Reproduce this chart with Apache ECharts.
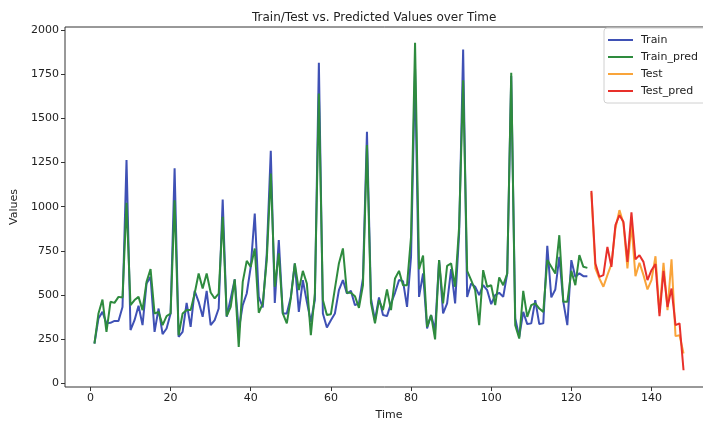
<!DOCTYPE html>
<html>
<head>
<meta charset="utf-8">
<script src="https://cdn.jsdelivr.net/npm/echarts@6/dist/echarts.min.js"></script>
<style>
  html, body { margin: 0; padding: 0; background: #fff; }
  #chart { width: 703px; height: 423px; }
</style>
</head>
<body>
<div id="chart"></div>
<script>
// values, index = time step
var trainStart = 1;
var train = [226, 368, 405, 340, 343, 354, 354, 433, 1264, 302, 358, 440, 330, 566, 603, 292, 424, 279, 311, 396,
    1217, 264, 292, 456, 320, 524, 462, 377, 524, 330, 358, 424, 1041, 377, 481, 589, 302, 443, 509, 660,
    962, 490, 430, 736, 1316, 456, 811, 396, 396, 490, 679, 405, 585, 462, 349, 472, 1814, 396, 317, 358,
    396, 528, 585, 509, 524, 443, 453, 594, 1424, 481, 358, 487, 387, 381, 453, 513, 585, 579, 433, 717,
    1780, 490, 622, 311, 387, 302, 698, 396, 453, 647, 453, 849, 1890, 490, 566, 547, 500, 556, 528, 449,
    500, 513, 490, 622, 1740, 368, 264, 405, 336, 340, 472, 336, 340, 779, 487, 532, 717, 462, 330, 698,
    603, 623, 607, 607];
var trainPred = [226, 396, 475, 292, 462, 456, 490, 487, 1022, 443, 472, 490, 415, 575, 647, 396, 405, 330, 381, 396,
    1037, 273, 396, 415, 415, 509, 622, 537, 622, 515, 481, 509, 943, 381, 433, 589, 207, 575, 694, 660,
    764, 400, 453, 698, 1188, 547, 736, 396, 340, 481, 679, 528, 637, 566, 273, 509, 1641, 472, 387, 392,
    537, 679, 764, 513, 513, 494, 428, 556, 1349, 456, 340, 472, 415, 532, 415, 594, 637, 556, 556, 830,
    1928, 647, 724, 320, 387, 249, 698, 453, 666, 679, 547, 886, 1716, 637, 585, 528, 330, 641, 547, 556,
    443, 600, 556, 622, 1758, 330, 254, 524, 377, 443, 453, 424, 405, 698, 660, 622, 839, 462, 462, 637,
    556, 726, 660, 654];
var testStart = 125;
var test = [1080, 651, 594, 547, 613, 675, 877, 981, 906, 651, 900, 607, 683, 613, 532, 585, 720, 400, 683, 415,
    702, 268, 273, 170];
var testPred = [1090, 679, 603, 613, 773, 660, 896, 952, 915, 688, 968, 702, 726, 688, 585, 641, 675, 381, 637, 433,
    537, 330, 340, 75];

var xTicks = [0, 20, 40, 60, 80, 100, 120, 140];
var yTicks = [0, 250, 500, 750, 1000, 1250, 1500, 1750, 2000];

function pairs(start, vals) {
    return vals.map(function (v, i) { return [start + i, v]; });
}

var chart = echarts.init(document.getElementById('chart'));
var font = 'DejaVu Sans';

function lineSeries(name, color, data) {
    return {
        name: name,
        type: 'line',
        data: data,
        showSymbol: false,
        symbol: 'none',
        lineStyle: { color: color, width: 2 },
        itemStyle: { color: color }
    };
}

chart.setOption({
    animation: false,
    title: {
        text: 'Train/Test vs. Predicted Values over Time',
        left: 247,
        top: 7,
        textStyle: { fontFamily: font, fontSize: 12, fontWeight: 'normal', color: '#222' }
    },
    legend: {
        orient: 'vertical',
        left: 604,
        top: 28,
        padding: [5, 30, 5, 4],
        itemWidth: 25,
        itemHeight: 2,
        itemGap: 3,
        icon: 'rect',
        backgroundColor: '#fff',
        borderColor: '#d0d0d0',
        borderWidth: 1,
        borderRadius: 3,
        textStyle: { fontFamily: font, fontSize: 11, color: '#222', lineHeight: 14, padding: [0, 0, 0, 3] },
        data: ['Train', 'Train_pred', 'Test', 'Test_pred']
    },
    grid: {
        left: 65,
        right: -10,
        top: 27,
        bottom: 36,
        outerBoundsMode: 'none',
        containLabel: false,
        show: true,
        borderColor: '#333',
        borderWidth: 1,
        backgroundColor: 'transparent'
    },
    xAxis: {
        type: 'value',
        min: -6.35,
        max: 155.35,
        name: 'Time',
        nameLocation: 'middle',
        nameGap: 23,
        nameTextStyle: { fontFamily: font, fontSize: 11, color: '#222' },
        axisLine: { show: false, onZero: false },
        splitLine: { show: false },
        axisTick: { show: true, length: 4, customValues: xTicks, lineStyle: { color: '#333' } },
        axisLabel: { customValues: xTicks, fontFamily: font, fontSize: 11, color: '#222', margin: 6,
            formatter: function (v) { return String(v); } }
    },
    yAxis: {
        type: 'value',
        min: -20,
        max: 2017,
        name: 'Values',
        nameLocation: 'middle',
        nameGap: 45,
        nameTextStyle: { fontFamily: font, fontSize: 11, color: '#222' },
        axisLine: { show: false, onZero: false },
        splitLine: { show: false },
        axisTick: { show: true, length: 4, customValues: yTicks, lineStyle: { color: '#333' } },
        axisLabel: { customValues: yTicks, fontFamily: font, fontSize: 11, color: '#222', margin: 6,
            formatter: function (v) { return String(v); } }
    },
    series: [
        lineSeries('Train', '#3f51b5', pairs(trainStart, train)),
        lineSeries('Train_pred', '#2e8b3e', pairs(trainStart, trainPred)),
        lineSeries('Test', '#f9a43a', pairs(testStart, test)),
        lineSeries('Test_pred', '#e8302a', pairs(testStart, testPred))
    ]
});
</script>
</body>
</html>
